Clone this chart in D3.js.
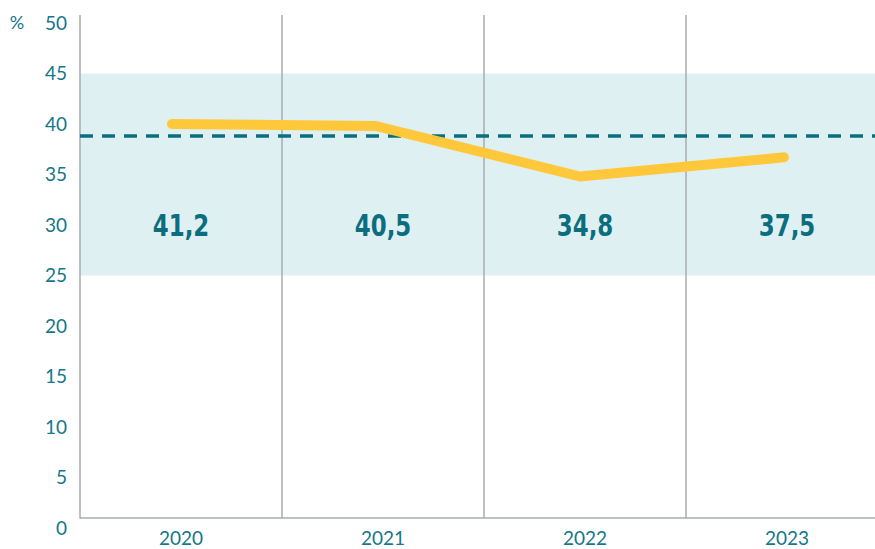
<!DOCTYPE html>
<html>
<head>
<meta charset="utf-8">
<script src="https://cdn.jsdelivr.net/npm/d3@7"></script>
<style>
  html, body { margin: 0; padding: 0; background: #ffffff; }
  svg { display: block; }
</style>
</head>
<body>
<div id="chart"></div>
<script>
// data
var years = ["2020", "2021", "2022", "2023"];
var lineValues = [40.0, 39.8, 34.8, 36.7];
var labelValues = ["41,2", "40,5", "34,8", "37,5"];
var yTicks = [0, 5, 10, 15, 20, 25, 30, 35, 40, 45, 50];
var bandRange = [25, 45];
var targetValue = [38.8];
var labelLevel = [30];

// layout / look
var config = {
    width: 875,
    height: 549,
    left: 80,
    right: 875,
    top: 15,
    bottom: 518,
    colors: {
        axis: '#a9acae',
        tick: '#157789',
        label: '#0b6e7e',
        band: '#dff0f3',
        dash: '#0b6e7e',
        line: '#ffc83b'
    }
};

var svg = d3.select('#chart').append('svg')
    .attr('width', config.width)
    .attr('height', config.height);

var y = d3.scaleLinear().domain([0, 50]).range([528, 23]);
var x = d3.scaleBand().domain(years).range([config.left, config.left + 4 * 202]);
// the line points sit a bit off the category centres in the original
var xLine = d3.scalePoint().domain(years).range([172, 784]);

// shaded band
svg.append('rect')
    .attr('x', config.left)
    .attr('y', y(bandRange[1]))
    .attr('width', config.right - config.left)
    .attr('height', y(bandRange[0]) - y(bandRange[1]))
    .attr('fill', config.colors.band);

// vertical separators between years
svg.selectAll('.sep')
    .data(years.slice(1))
    .enter().append('line')
    .attr('x1', function(d) { return x(d); })
    .attr('x2', function(d) { return x(d); })
    .attr('y1', config.top)
    .attr('y2', config.bottom)
    .attr('stroke', config.colors.axis)
    .attr('stroke-width', 1.5);

// left axis line and bottom axis line
svg.append('line')
    .attr('x1', config.left).attr('x2', config.left)
    .attr('y1', config.top).attr('y2', config.bottom + 0.75)
    .attr('stroke', config.colors.axis)
    .attr('stroke-width', 1.5);
svg.append('line')
    .attr('x1', config.left).attr('x2', config.right)
    .attr('y1', config.bottom).attr('y2', config.bottom)
    .attr('stroke', config.colors.axis)
    .attr('stroke-width', 1.5);

// y tick labels
var yAxis = svg.append('g')
    .attr('transform', 'translate(' + 67 + ',0)')
    .call(d3.axisLeft(y).tickValues(yTicks).tickSize(0).tickPadding(0));
yAxis.select('.domain').remove();
yAxis.selectAll('text')
    .attr('fill', config.colors.tick)
    .attr('font-family', 'Lato, sans-serif')
    .attr('font-size', 19);

svg.append('text')
    .attr('x', 17)
    .attr('y', y(50))
    .attr('dy', '0.32em')
    .attr('text-anchor', 'middle')
    .attr('fill', config.colors.tick)
    .attr('font-family', 'Lato, sans-serif')
    .attr('font-size', 18)
    .text('%');

// x labels
var xAxis = svg.append('g')
    .attr('transform', 'translate(0,' + 531 + ')')
    .call(d3.axisBottom(x).tickSize(0).tickPadding(0));
xAxis.select('.domain').remove();
xAxis.selectAll('text')
    .attr('fill', config.colors.tick)
    .attr('font-family', 'Lato, sans-serif')
    .attr('font-size', 19);

// dashed reference line
svg.selectAll('.target')
    .data(targetValue)
    .enter().append('line')
    .attr('x1', config.left)
    .attr('x2', config.right)
    .attr('y1', function(d) { return y(d); })
    .attr('y2', function(d) { return y(d); })
    .attr('stroke', config.colors.dash)
    .attr('stroke-width', 3.5)
    .attr('stroke-dasharray', '13,9');

// the yellow line
var line = d3.line()
    .x(function(d, i) { return xLine(years[i]); })
    .y(function(d) { return y(d); });
svg.append('path')
    .datum(lineValues)
    .attr('d', line)
    .attr('fill', 'none')
    .attr('stroke', config.colors.line)
    .attr('stroke-width', 10)
    .attr('stroke-linecap', 'round')
    .attr('stroke-linejoin', 'round');

// big value labels in the band (squeezed to look condensed)
svg.selectAll('.vlabel')
    .data(labelValues)
    .enter().append('text')
    .attr('transform', function(d, i) {
        return 'translate(' + (x(years[i]) + x.bandwidth() / 2) + ',' + y(labelLevel[0]) + ') scale(0.74,1)';
    })
    .attr('dy', '0.36em')
    .attr('text-anchor', 'middle')
    .attr('fill', config.colors.label)
    .attr('font-family', '"DejaVu Sans", sans-serif')
    .attr('font-weight', 'bold')
    .attr('font-size', 31)
    .text(function(d) { return d; });
</script>
</body>
</html>
